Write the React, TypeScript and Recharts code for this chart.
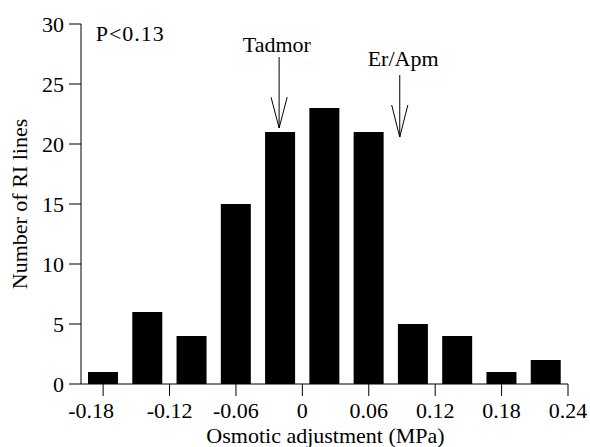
import React from 'react';
import {
  BarChart,
  Bar,
  XAxis,
  YAxis,
  ReferenceLine,
  ReferenceDot,
} from 'recharts';

const binCenters = [-0.18, -0.14, -0.1, -0.06, -0.02, 0.02, 0.06, 0.1, 0.14, 0.18, 0.22];
const lineCounts = [1, 6, 4, 15, 21, 23, 21, 5, 4, 1, 2];
const xTicks = [-0.18, -0.12, -0.06, 0, 0.06, 0.12, 0.18, 0.24];
const yTicks = [0, 5, 10, 15, 20, 25, 30];

// arrows: label, x, label y, shaft top, head top, tip
const arrowNames = ['Tadmor', 'Er/Apm'];
const arrowX = [-0.021, 0.088];
const arrowLabelX = [-0.023, 0.091];
const arrowLabelY = [28.33, 27.17];
const arrowTop = [27.25, 25.75];
const arrowHeadTop = [23.9, 23.25];
const arrowTip = [21.33, 20.58];

const data = binCenters.map((x, i) => ({ x, count: lineCounts[i] }));

const FONT = '"Liberation Serif", "Times New Roman", serif';
const HEAD = 0.0073;

const fmt = (v: number) => (v === 0 ? '0' : v.toFixed(2));

// first x label sits a bit left of its tick in the original
const XTick = (props: any) => {
  const { x, y, payload, index } = props;
  return (
    <text x={x + (index === 0 ? -12 : 0)} y={y} dy="0.71em" textAnchor="middle"
      fontFamily={FONT} fontSize={22} fill="#000">
      {fmt(payload.value)}
    </text>
  );
};

const YLabel = (props: any) => {
  const { viewBox } = props;
  const x = viewBox.x + 27;
  const y = viewBox.y + viewBox.height / 2;
  return (
    <text x={x} y={y} transform={`rotate(-90 ${x} ${y})`} textAnchor="middle"
      fontFamily={FONT} fontSize={22} fill="#000">
      Number of RI lines
    </text>
  );
};

const XLabel = (props: any) => {
  const { viewBox } = props;
  return (
    <text x={viewBox.x + viewBox.width / 2 + 1} y={viewBox.y + 59} textAnchor="middle"
      fontFamily={FONT} fontSize={22} fill="#000">
      Osmotic adjustment (MPa)
    </text>
  );
};

const App: React.FC = () => {
  return (
    <div style={{ position: 'absolute', left: 0, top: 0, background: '#fff' }}>
      <BarChart width={590} height={447} data={data}
        margin={{ top: 24, right: 22, bottom: 0, left: 0 }}>
        <XAxis type="number" dataKey="x" domain={[-0.2, 0.24]} ticks={xTicks} interval={0}
          height={63} stroke="#000" tickSize={12} tickMargin={6}
          tick={<XTick />} label={<XLabel />} />
        <YAxis type="number" domain={[0, 30]} ticks={yTicks} interval={0} width={81}
          stroke="#000" tickSize={12} tickMargin={5}
          tick={{ fill: '#000', fontSize: 22, fontFamily: FONT }}
          label={<YLabel />} />
        <Bar dataKey="count" fill="#000" barSize={30} isAnimationActive={false} />
        <ReferenceDot x={-0.1555} y={29.25} r={1} fill="none" stroke="none"
          label={{ value: 'P<0.13', position: 'center', fill: '#000', fontSize: 22, fontFamily: FONT, letterSpacing: 1 }} />
        {arrowNames.map((name, i) => (
          <ReferenceDot key={'t' + name} x={arrowLabelX[i]} y={arrowLabelY[i]} r={1} fill="none" stroke="none"
            label={{ value: name, position: 'center', fill: '#000', fontSize: 22, fontFamily: FONT }} />
        ))}
        {arrowNames.map((name, i) => (
          <ReferenceLine key={'s' + name} stroke="#000" strokeWidth={1}
            segment={[{ x: arrowX[i], y: arrowTop[i] }, { x: arrowX[i], y: arrowTip[i] }]} />
        ))}
        {arrowNames.map((name, i) => (
          <ReferenceLine key={'l' + name} stroke="#000" strokeWidth={1}
            segment={[{ x: arrowX[i] - HEAD, y: arrowHeadTop[i] }, { x: arrowX[i], y: arrowTip[i] }]} />
        ))}
        {arrowNames.map((name, i) => (
          <ReferenceLine key={'r' + name} stroke="#000" strokeWidth={1}
            segment={[{ x: arrowX[i] + HEAD, y: arrowHeadTop[i] }, { x: arrowX[i], y: arrowTip[i] }]} />
        ))}
      </BarChart>
    </div>
  );
};

export default App;
